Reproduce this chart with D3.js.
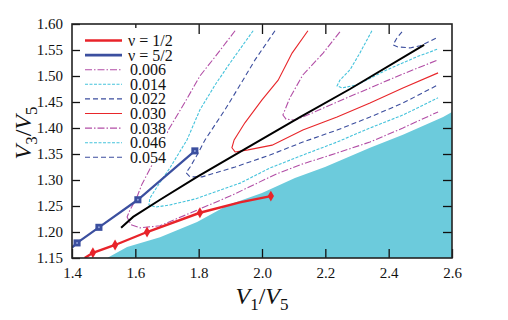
<!DOCTYPE html>
<html>
<head>
<meta charset="utf-8">
<script src="https://cdn.jsdelivr.net/npm/d3@7"></script>
<style>
  body { margin: 0; background: #fff; }
  text { font-family: "Liberation Serif", "Times New Roman", serif; fill: #111; }
</style>
</head>
<body>
<svg width="508" height="320"></svg>
<script>
// --- dados ---
const xTicks = [1.4, 1.6, 1.8, 2.0, 2.2, 2.4, 2.6];
const yTicks = [1.15, 1.20, 1.25, 1.30, 1.35, 1.40, 1.45, 1.50, 1.55, 1.60];

// região preenchida (azul claro), borda superior
const fillEdge = [[1.511,1.15],[1.574,1.171],[1.678,1.190],[1.795,1.219],[1.893,1.252],[2.0,1.275],
  [2.104,1.304],[2.199,1.325],[2.341,1.362],[2.445,1.387],[2.572,1.421],[2.6,1.431]];

// linha preta
const blackLine = [[1.555,1.208],[1.593,1.229],[1.678,1.262],[1.795,1.306],[1.962,1.365],
  [2.120,1.421],[2.278,1.475],[2.512,1.560]];

// nu = 1/2 e nu = 5/2
const nuHalf = [[1.44,1.15],[1.466,1.160],[1.536,1.175],[1.637,1.200],[1.804,1.237],[1.93,1.257],[2.028,1.269]];
const nuHalfMarks = [1, 2, 3, 4, 6];
const nuFive = [[1.40,1.170],[1.416,1.179],[1.485,1.209],[1.608,1.262],[1.788,1.356]];
const nuFiveMarks = [1, 2, 3, 4];

// contornos
const c006 = [[1.915,1.587],[1.852,1.537],[1.804,1.500],[1.757,1.450],[1.706,1.398],[1.678,1.360],
  [1.646,1.321],[1.621,1.292],[1.605,1.267],[1.583,1.242],[1.574,1.229],[1.586,1.214],[1.615,1.208],
  [1.678,1.212],[1.795,1.242],[1.899,1.269],[2.047,1.312],[2.129,1.331],[2.237,1.352],[2.341,1.373],
  [2.445,1.400],[2.556,1.431]];
const c014 = [[1.972,1.587],[1.899,1.525],[1.852,1.483],[1.804,1.435],[1.763,1.377],[1.709,1.323],
  [1.672,1.290],[1.646,1.265],[1.643,1.252],[1.665,1.248],[1.709,1.252],[1.792,1.264],[1.931,1.294],
  [2.025,1.323],[2.129,1.348],[2.237,1.373],[2.341,1.400],[2.445,1.425],[2.556,1.458]];
const c022 = [[2.041,1.587],[1.978,1.531],[1.931,1.483],[1.883,1.435],[1.820,1.377],[1.795,1.348],
  [1.773,1.325],[1.760,1.314],[1.773,1.306],[1.811,1.306],[1.915,1.325],[2.025,1.348],[2.129,1.373],
  [2.237,1.396],[2.341,1.421],[2.445,1.448],[2.556,1.483]];
const c030 = [[2.145,1.587],[2.095,1.544],[2.051,1.492],[2.000,1.454],[1.946,1.410],[1.912,1.377],
  [1.905,1.362],[1.915,1.354],[1.956,1.358],[2.032,1.367],[2.129,1.396],[2.237,1.421],[2.341,1.448],
  [2.445,1.477],[2.556,1.506]];
const c038 = [[2.246,1.585],[2.193,1.544],[2.129,1.502],[2.088,1.458],[2.066,1.425],[2.076,1.417],
  [2.104,1.415],[2.152,1.427],[2.237,1.450],[2.341,1.477],[2.445,1.504],[2.556,1.531]];
const c046 = [[2.347,1.587],[2.309,1.544],[2.278,1.512],[2.246,1.492],[2.237,1.481],[2.253,1.477],
  [2.300,1.483],[2.395,1.512],[2.489,1.537],[2.556,1.552]];
const c054 = [[2.442,1.585],[2.426,1.573],[2.414,1.560],[2.429,1.556],[2.467,1.554],[2.499,1.558],
  [2.531,1.567],[2.556,1.575]];

const contourLabels = ['0.006', '0.014', '0.022', '0.030', '0.038', '0.046', '0.054'];
const contourData = [c006, c014, c022, c030, c038, c046, c054];

// --- estilos ---
const estilos = {
  magenta: { color: '#b24ea6', dash: '7,2,1.5,2' },
  ciano:   { color: '#45c3dc', dash: '3,1.5' },
  marinho: { color: '#3c4e9e', dash: '5,3' },
  vermelho:{ color: '#e8262a', dash: null }
};
const contourStyles = ['magenta', 'ciano', 'marinho', 'vermelho', 'magenta', 'ciano', 'marinho'];
const RED = '#e8232a', BLUE = '#3b4f9f', FILL = '#6ccbdc';

const svg = d3.select('svg');
const margens = { left: 72, right: 56, top: 24, bottom: 62 };
const width = +svg.attr('width'), height = +svg.attr('height');
const innerWidth = width - margens.left - margens.right;
const innerHeight = height - margens.top - margens.bottom;

const x = d3.scaleLinear().domain([1.4, 2.6]).range([0, innerWidth]);
const y = d3.scaleLinear().domain([1.15, 1.60]).range([innerHeight, 0]);

const g = svg.append('g').attr('transform', `translate(${margens.left},${margens.top})`);

g.append('clipPath').attr('id', 'clip')
  .append('rect').attr('width', innerWidth).attr('height', innerHeight);
const plot = g.append('g').attr('clip-path', 'url(#clip)');

const line = d3.line().x(d => x(d[0])).y(d => y(d[1]));

// área preenchida
const area = d3.area().x(d => x(d[0])).y0(y(1.15)).y1(d => y(d[1]));
plot.append('path').datum(fillEdge).attr('d', area).attr('fill', FILL);

// contornos
contourData.forEach((c, i) => {
  const st = estilos[contourStyles[i]];
  plot.append('path').datum(c).attr('d', line)
    .attr('fill', 'none').attr('stroke', st.color).attr('stroke-width', 1.1)
    .attr('stroke-dasharray', st.dash);
});

// linha preta
plot.append('path').datum(blackLine).attr('d', line)
  .attr('fill', 'none').attr('stroke', '#000').attr('stroke-width', 2);

// nu = 5/2
plot.append('path').datum(nuFive).attr('d', line)
  .attr('fill', 'none').attr('stroke', BLUE).attr('stroke-width', 2.2);
const sq = d3.symbol(d3.symbolSquare, 50);
nuFiveMarks.forEach(i => {
  const d = nuFive[i];
  plot.append('path').attr('d', sq).attr('fill', BLUE)
    .attr('transform', `translate(${x(d[0])},${y(d[1])})`);
  plot.append('circle').attr('cx', x(d[0])).attr('cy', y(d[1])).attr('r', 1).attr('fill', '#8fa2dc');
});

// nu = 1/2
plot.append('path').datum(nuHalf).attr('d', line)
  .attr('fill', 'none').attr('stroke', RED).attr('stroke-width', 2.4);
const diamante = d3.symbol(d3.symbolDiamond, 34);
nuHalfMarks.forEach(i => {
  const d = nuHalf[i];
  plot.append('path').attr('d', diamante).attr('fill', RED)
    .attr('transform', `translate(${x(d[0])},${y(d[1])})`);
});

// --- eixos (ticks para dentro) ---
const fmtX = d3.format('.1f'), fmtY = d3.format('.2f');
const eixoX = g.append('g').attr('transform', `translate(0,${innerHeight})`)
  .call(d3.axisBottom(x).tickValues(xTicks).tickFormat(fmtX).tickSizeInner(-9).tickSizeOuter(0).tickPadding(9));
const eixoY = g.append('g')
  .call(d3.axisLeft(y).tickValues(yTicks).tickFormat(fmtY).tickSizeInner(-8).tickSizeOuter(0).tickPadding(9));
const eixoTop = g.append('g')
  .call(d3.axisTop(x).tickValues(xTicks.slice(1, -1)).tickSizeInner(-10).tickSizeOuter(0));
const eixoRight = g.append('g').attr('transform', `translate(${innerWidth},0)`)
  .call(d3.axisRight(y).tickValues(yTicks.slice(1, -1)).tickSizeInner(-9).tickSizeOuter(0));
// eixos de cima e da direita: só os ticks
eixoTop.selectAll('text').remove();
eixoRight.selectAll('text').remove();

[eixoX, eixoY, eixoTop, eixoRight].forEach(a => {
  a.select('.domain').remove();
  a.selectAll('line').attr('stroke', '#111').attr('stroke-width', 1.3);
  a.selectAll('text').style('font-size', '15px').style('font-family', '"Liberation Serif", serif').attr('fill', '#111');
});

// moldura
g.append('rect').attr('width', innerWidth).attr('height', innerHeight)
  .attr('fill', 'none').attr('stroke', '#222').attr('stroke-width', 1.6);

// --- legenda ---
const leg = g.append('g').attr('transform', 'translate(8,0)');
leg.append('rect').attr('x', 1).attr('y', 4).attr('width', 86).attr('height', 137).attr('fill', '#fff');
const legItems = [
  { label: 'ν = 1/2', color: RED, dash: null, w: 2.6 },
  { label: 'ν = 5/2', color: BLUE, dash: null, w: 2.6 }
].concat(contourLabels.map((l, i) => ({
  label: l, color: estilos[contourStyles[i]].color, dash: estilos[contourStyles[i]].dash, w: 1.1
})));
legItems.forEach((it, i) => {
  const yy = 16.5 + i * 14.6;
  leg.append('line').attr('x1', 5).attr('x2', 42).attr('y1', yy).attr('y2', yy)
    .attr('stroke', it.color).attr('stroke-width', it.w).attr('stroke-dasharray', it.dash);
  leg.append('text').attr('x', i < 2 ? 48 : 50).attr('y', yy + 5.5)
    .style('font-size', '16px').text(it.label);
});

// --- rótulos dos eixos ---
function rotulo(sel, a, b) {
  sel.append('tspan').style('font-style', 'italic').text('V');
  sel.append('tspan').attr('dy', 6).style('font-size', '17px').text(a);
  sel.append('tspan').attr('dy', -6).text('/');
  sel.append('tspan').style('font-style', 'italic').text('V');
  sel.append('tspan').attr('dy', 6).style('font-size', '17px').text(b);
}
const xl = svg.append('text').attr('x', 262).attr('y', 304)
  .attr('text-anchor', 'middle').style('font-size', '24px');
rotulo(xl, '1', '5');
const yl = svg.append('text').attr('transform', 'translate(31,133) rotate(-90)')
  .attr('text-anchor', 'middle').style('font-size', '24px');
rotulo(yl, '3', '5');
</script>
</body>
</html>
